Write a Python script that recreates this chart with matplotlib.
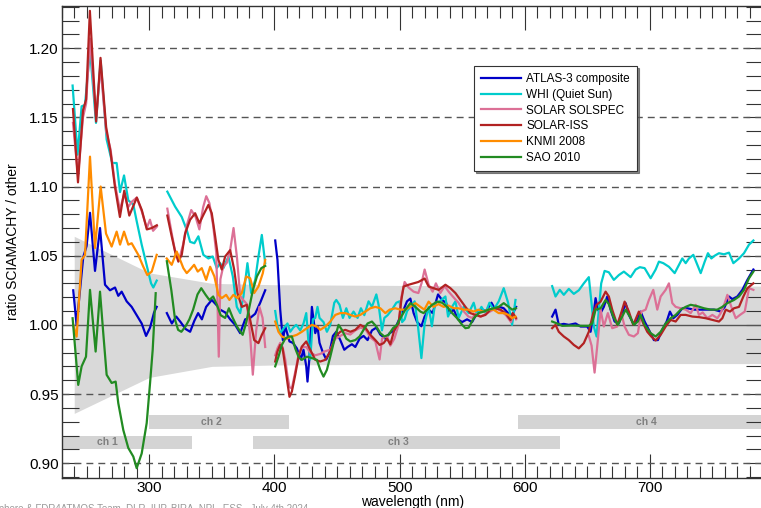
import numpy as np
import matplotlib
matplotlib.use("Agg")
import matplotlib.pyplot as plt
from matplotlib.ticker import MultipleLocator

plt.rcParams['font.family'] = ['Liberation Sans', 'DejaVu Sans']

# ratio SCIAMACHY / reference spectrum, (wavelength nm, ratio); None = gap between segments
atlas = [(239.2, 1.025), (241.9, 1.000), (247.2, 1.049), (249.9, 1.057), (252.6, 1.081), (256.6, 1.039),
         (260.6, 1.070), (264.6, 1.029), (268.6, 1.025), (272.6, 1.027), (275.2, 1.021), (277.9, 1.024),
         (281.9, 1.017), (285.9, 1.013), (289.9, 1.007), (293.9, 1.001), (297.4, 0.992), (300.6, 0.998),
         (303.8, 1.009), (305.9, 1.013), None,
         (314, 1.0085), (318, 1.001), (321.5, 1.006), (325, 1.002), (329, 0.997), (332.6, 0.995), (336, 1.003),
         (339, 1.0085), (342, 1.004), (345.4, 1.013), (349.9, 1.018), (353.5, 1.0145), (356.6, 1.011),
         (360.6, 1.009), (364.6, 1.004), (368.6, 1.000), (372.6, 0.994), (376.6, 1.004), (380.6, 1.005),
         (384.6, 1.008), (388.6, 1.016), (392.6, 1.025), None,
         (400.6, 1.061), (402.4, 1.047), (404.6, 1.011), (406.7, 0.989), (408.6, 0.999), (412, 0.988),
         (414.7, 0.987), (417.9, 0.983), (421.1, 0.975), (423.2, 0.982), (425.4, 0.970), (426.4, 0.959),
         (428, 0.977), (429.9, 1.013), (432.6, 0.994), (434.4, 0.999), (436, 0.987), (438.7, 0.980),
         (441.4, 0.975), (444, 0.980), (446.7, 0.992), (449.4, 0.995), (452.6, 0.989), (455.8, 0.982),
         (458.4, 0.984), (461.9, 0.986), (464.6, 0.984), (468, 0.990), (471.2, 0.992), (474.4, 0.989),
         (477.9, 0.996), (481.4, 0.998), (484.6, 0.993), (488.6, 0.990), (492, 0.994), (495.8, 0.996),
         (500.6, 1.006), (503.2, 1.011), (505.9, 1.017), (508.6, 1.019), (511.2, 1.0085), (514, 1.002),
         (517.4, 0.999), (520, 1.006), (523.2, 1.011), (526.4, 1.0085), (530.7, 1.022), (533.9, 1.018),
         (537.1, 1.016), (540, 1.0085), (543.2, 1.011), (546.7, 1.004), (549.9, 1.002), (553.9, 1.004),
         (557.9, 1.002), (561.9, 1.0085), (565.4, 1.011), (569.1, 1.010), (573.4, 1.016), (576.6, 1.011),
         (579.8, 1.013), (583.2, 1.012), (586.7, 1.0085), (589.9, 1.007), (593.1, 1.013), None,
         (621.9, 1.006), (624.6, 1.011), (627.2, 1.000), (631.2, 1.0007), (635.2, 1.000), (640.6, 1.001),
         (644.6, 0.9988), (649.9, 0.9988), (652.6, 0.995), (654.7, 1.006), (656.6, 1.0193), (658.4, 1.011),
         (660.6, 1.0085), (663.2, 1.013), (665.9, 1.0205), (668.6, 1.011), (671.8, 1.0024), (675.2, 1.001),
         (677.9, 1.0085), (680.6, 1.0157), (683.2, 1.0072), (687.2, 1.000), (689.9, 1.0036), (692.6, 1.0096),
         (695.8, 1.0024), (699.2, 0.9964), (703.2, 0.989), (706.4, 0.989), (709.9, 0.9964), (713.4, 1.0024),
         (716, 1.0096), (718.7, 1.0048), (721.9, 1.0072), (725.9, 1.012), (729.9, 1.012), (735.2, 1.011),
         (740.6, 1.011), (745.9, 1.011), (751.2, 1.011), (756.6, 1.0096), (759.8, 1.013), (763.2, 1.0205),
         (765.9, 1.0186), (769.9, 1.0205), (773.9, 1.0253), (777.9, 1.0325), (782.7, 1.040)]

whi = [(238.7, 1.173), (242.7, 1.123), (245.9, 1.158), (248.6, 1.159), (252.6, 1.199), (257.4, 1.146),
       (261.1, 1.191), (265.9, 1.134), (270.4, 1.117), (273.9, 1.117), (276.6, 1.096), (279.8, 1.108),
       (283.2, 1.090), (287.2, 1.087), (289.9, 1.075), (293.9, 1.058), (297.9, 1.043), (301.4, 1.030),
       (303.2, 1.027), (305.9, 1.032), None,
       (314.4, 1.0963), (320.6, 1.0855), (325.9, 1.078), (329.9, 1.0686), (332.6, 1.060), (336, 1.059),
       (339.2, 1.064), (343.2, 1.0506), (347.2, 1.048), (350.7, 1.0494), (353.9, 1.041), (356.6, 1.0446),
       (359.2, 1.041), (363.2, 1.0494), (366.7, 1.035), (369.9, 1.013), (372.6, 1.0085), (375.2, 1.0205),
       (378.4, 1.0446), (381.4, 1.023), (384.6, 1.0325), (387.2, 1.0494), (389.9, 1.065), (392.6, 1.0446), None,
       (400.6, 1.010), (402.4, 0.999), (404.6, 0.994), (407.8, 0.998), (410.4, 1.001), (412.6, 0.995),
       (415, 0.998), (417.4, 1.000), (420.6, 0.996), (423.2, 1.001), (425.4, 1.0085), (427.2, 0.987),
       (428.6, 0.975), (430.7, 1.004), (432.6, 1.005), (434.4, 1.013), (436, 1.005), (439.2, 1.002),
       (441.9, 0.995), (444.6, 1.000), (447.8, 1.016), (449.4, 1.018), (452, 1.0145), (454.7, 1.005),
       (457.4, 1.012), (460, 1.005), (463.2, 1.0096), (466.4, 1.005), (469.1, 1.012), (471.8, 1.007),
       (475.2, 1.017), (477.9, 1.013), (481.4, 1.022), (483.2, 1.0145), (485.9, 0.996), (487.8, 1.005),
       (490.4, 1.007), (493.9, 1.011), (497.4, 1.016), (500, 1.017), (502, 1.002), (504, 1.004), (506, 1.010),
       (508.6, 1.013), (512, 1.017), (514.7, 0.999), (517.4, 0.976), (520, 1.001), (523.2, 1.013),
       (525.8, 0.999), (528.4, 1.016), (532, 1.017), (536.6, 1.0205), (538.7, 1.006), (541.9, 1.013),
       (544.6, 1.017), (547.2, 1.005), (551.2, 1.013), (555.2, 1.0085), (559.2, 1.016), (561.9, 1.007),
       (565.4, 1.013), (568.6, 1.0085), (571.8, 1.016), (575.2, 1.011), (579.2, 1.017), (583.2, 1.0265),
       (586.7, 1.016), (589.9, 1.000), (592.6, 1.018), None,
       (621.9, 1.028), (624.6, 1.0205), (628, 1.0253), (631.2, 1.0217), (635.2, 1.026), (639.2, 1.0224),
       (643.2, 1.025), (647.2, 1.030), (651.2, 1.0345), (653.1, 1.018), (655.2, 0.9988), (657.4, 0.9916),
       (659.2, 1.011), (661.1, 1.030), (663.8, 1.039), (667.2, 1.038), (671.2, 1.0325), (675.2, 1.036),
       (679.2, 1.0385), (684.6, 1.0345), (688.6, 1.040), (692, 1.0417), (695.8, 1.041), (700.6, 1.0337),
       (704.6, 1.040), (707.2, 1.0457), (710.7, 1.0446), (715.2, 1.042), (719.8, 1.0374), (723.2, 1.0434),
       (725.9, 1.048), (728.6, 1.0446), (731.2, 1.048), (734.7, 1.0506), (737.9, 1.0434), (740.6, 1.0374),
       (743.8, 1.0457), (746.4, 1.0518), (749.1, 1.048), (751.8, 1.050), (755.2, 1.0518), (759.2, 1.051),
       (763.2, 1.0522), (766.7, 1.0446), (771.2, 1.048), (775.2, 1.0518), (779.2, 1.058), (782.7, 1.061)]

solspec = [(239, 1.146), (243, 1.108), (247, 1.150), (249.5, 1.160), (252.5, 1.207), (257.5, 1.150),
           (261, 1.187), (265.5, 1.140), (269, 1.127), (272.5, 1.102), (276.5, 1.083), (280, 1.095),
           (283, 1.085), (286, 1.089), (290, 1.092), (294, 1.082), (298, 1.070), (300.5, 1.076),
           (303, 1.068), (306, 1.071), None,
           (314.4, 1.084), (317.9, 1.066), (321.3, 1.050), (324, 1.048), (327, 1.058), (330, 1.072),
           (333.5, 1.083), (337, 1.078), (340, 1.069), (343, 1.085), (345.5, 1.093), (348, 1.088),
           (351, 1.072), (353.5, 1.052), (355.5, 0.977), (356.8, 1.033), (359, 1.042), (362, 1.045),
           (364.6, 1.054), (367.3, 1.070), (370, 1.049), (372.6, 1.021), (375, 1.018), (378, 1.015),
           (380.6, 0.992), (382.7, 0.964), (385.4, 0.996), (388, 1.013), (390.5, 1.005), (392.6, 0.984), None,
           (400.6, 0.978), (402.4, 0.983), (404.6, 0.987), (406.5, 0.984), (408.6, 0.975), (410.4, 0.963),
           (412, 0.955), (413.9, 0.954), (416.6, 0.966), (419.2, 0.978), (421.9, 0.984), (425.4, 0.984),
           (428.6, 0.980), (432.6, 0.978), (436.6, 0.979), (440.6, 0.981), (444.6, 0.982), (448.6, 0.990),
           (452.6, 0.992), (456.6, 0.994), (460.6, 0.993), (464.6, 0.996), (468.6, 0.998), (472.6, 0.997),
           (476.6, 0.991), (480.6, 0.988), (484, 0.975), (486, 0.990), (489.9, 0.992), (492.6, 0.985),
           (495.8, 0.990), (499.2, 1.000), (501.4, 1.020), (504, 1.031), (507.2, 1.027), (511.2, 1.024),
           (515, 1.023), (517.5, 1.030), (520, 1.040), (523.2, 1.029), (526.4, 1.024), (529, 1.030),
           (532.5, 1.023), (536, 1.028), (539.2, 1.024), (543, 1.020), (547, 1.016), (551, 1.010),
           (555, 1.006), (558, 1.005), (561, 1.008), (565, 1.006), (569, 1.008), (573, 1.010), (577, 1.012),
           (581, 1.010), (585, 1.007), (589, 1.002), (591, 1.008), (593.1, 1.004), None,
           (651.2, 0.992), (653.4, 0.985), (655.8, 0.9655), (658.4, 0.989), (660.6, 1.011), (663.2, 0.9988),
           (666.4, 1.0085), (669.9, 0.9976), (673.9, 0.9988), (677.1, 1.0085), (679.8, 0.9988), (683.2, 0.9928),
           (687.2, 0.9916), (690.4, 0.994), (693.1, 1.0096), (696.6, 1.011), (699.2, 1.018), (702.7, 1.0253),
           (705.9, 1.011), (708.6, 1.0205), (712.6, 1.0253), (715.2, 1.030), (717.9, 1.0157), (720.6, 1.013),
           (724.6, 1.012), (728.6, 1.011), (732.6, 1.0085), (736.6, 1.0145), (739.2, 1.0072), (742.2, 1.009),
           (745.9, 1.0048), (749.9, 1.0072), (753.9, 1.0048), (756.6, 1.0085), (759.8, 1.0157), (761.9, 1.0217),
           (765.1, 1.013), (768.6, 1.0048), (772, 1.0072), (775.8, 1.0096), (779.2, 1.0265), (782.7, 1.0253)]

solar_iss = [(239, 1.156), (243, 1.103), (247, 1.155), (249.5, 1.163), (252.5, 1.227), (257.5, 1.147),
             (261, 1.193), (265.5, 1.143), (269, 1.125), (272.5, 1.100), (276.5, 1.078), (280, 1.097),
             (284, 1.079), (290, 1.092), (294, 1.083), (298, 1.069), (302, 1.070), (306, 1.072), None,
             (314.4, 1.079), (317.9, 1.064), (320.6, 1.053), (323.2, 1.0457), (325.9, 1.0506), (328.6, 1.066),
             (332.6, 1.076), (336.6, 1.0807), (340, 1.0735), (343.2, 1.0795), (347.2, 1.0867), (349.9, 1.0807),
             (352.6, 1.064), (355.2, 1.047), (357.9, 1.040), (360.6, 1.0494), (364.6, 1.054), (367.8, 1.040),
             (370.4, 1.023), (373.9, 1.013), (377.9, 1.0145), (380.6, 1.0036), (383.8, 0.989), (387.2, 0.9868),
             (389.9, 0.9928), (392.6, 0.9976), None,
             (400.6, 0.9735), (402.4, 0.9807), (404.6, 0.9855), (406.5, 0.983), (408.6, 0.970), (410.4, 0.958),
             (412, 0.948), (413.9, 0.9518), (416.6, 0.9639), (419.2, 0.977), (421.9, 0.9843), (425.4, 0.988),
             (428.6, 0.982), (432.6, 0.9747), (436.6, 0.9735), (440.6, 0.9747), (444.6, 0.9807), (448.6, 0.9916),
             (452.6, 0.995), (456.6, 0.9964), (460.6, 0.995), (464.6, 0.9964), (468.6, 1.000), (472.6, 0.998),
             (476.6, 0.9928), (480.6, 0.989), (484, 0.9855), (487.2, 0.9868), (489.9, 0.990), (492.6, 0.986),
             (495.8, 0.9964), (499.2, 1.001), (501.4, 1.018), (503.2, 1.0277), (507.2, 1.029), (511.2, 1.030),
             (515, 1.031), (520, 1.0335), (523.2, 1.0277), (527.2, 1.0265), (531.2, 1.0253), (536.6, 1.029),
             (540.6, 1.0265), (544.6, 1.023), (548.6, 1.018), (552.6, 1.013), (556.6, 1.0085), (560.6, 1.0072),
             (564.6, 1.006), (568.6, 1.0072), (572.6, 1.011), (576.6, 1.012), (580.6, 1.011), (584.6, 1.0085),
             (588.6, 1.0035), (590.4, 1.0085), (593.1, 1.005), None,
             (621.9, 0.9976), (624.6, 1.000), (627.2, 0.995), (631.2, 0.9916), (635.2, 0.989), (639.2, 0.9855),
             (643.2, 0.983), (647.2, 0.9868), (651.2, 0.995), (654.7, 1.0085), (657.4, 1.0145), (660.6, 1.0168),
             (664.6, 1.024), (667.2, 1.0205), (669.9, 1.011), (673.9, 1.000), (676.6, 1.0072), (679.8, 1.0168),
             (683.2, 1.0096), (686.7, 1.000), (691.2, 1.0096), (694.7, 1.001), (697.9, 0.995), (701.1, 0.9916),
             (704.6, 0.9887), (708.6, 0.9928), (712.6, 0.9988), (716.6, 1.0036), (720.6, 1.0024), (724.6, 1.0072),
             (728.6, 1.0072), (733.9, 1.006), (739.2, 1.0056), (744.6, 1.0048), (749.9, 1.0036), (755.2, 1.0024),
             (757.9, 1.0048), (760.6, 1.011), (764, 1.0096), (767.2, 1.012), (771.2, 1.013), (774.7, 1.0205),
             (777.9, 1.0265), (782.7, 1.030)]

knmi = [(239.2, 1.000), (241.9, 0.9915), (245.9, 1.047), (248.6, 1.0505), (252.6, 1.1216), (256.6, 1.0556),
        (261.1, 1.100), (265.4, 1.066), (269.9, 1.0566), (273.9, 1.0674), (276.6, 1.058), (279.8, 1.0674),
        (283.2, 1.058), (285.9, 1.059), (291.2, 1.0506), (295.2, 1.042), (298.4, 1.036), (301.9, 1.0385),
        (305.9, 1.0506), None,
        (313.9, 1.048), (317.9, 1.0434), (321.9, 1.053), (324.6, 1.047), (327.2, 1.041), (329.9, 1.0374),
        (332.6, 1.040), (335.8, 1.0434), (338.7, 1.0385), (341.9, 1.041), (345.4, 1.0325), (348.6, 1.042),
        (352, 1.035), (355.2, 1.0217), (357.9, 1.0193), (361.4, 1.0217), (364, 1.018), (367.2, 1.0217),
        (370.4, 1.0193), (373.9, 1.023), (377.4, 1.035), (380.6, 1.0337), (383.8, 1.023), (387.2, 1.0277),
        (390.7, 1.0374), (392.6, 1.047), None,
        (400.6, 1.0024), (403.2, 0.995), (405.9, 0.9916), (409.9, 0.990), (413.9, 0.9916), (417.9, 0.9928),
        (421.9, 0.995), (425.9, 0.9976), (429.9, 1.000), (433.9, 0.9988), (436.6, 0.9964), (440.6, 0.9988),
        (444.6, 1.0024), (448.6, 1.0072), (452.6, 1.0085), (456.6, 1.0085), (460.6, 1.0072), (464.6, 1.006),
        (468.6, 1.0072), (472.6, 1.0096), (476.6, 1.012), (480.6, 1.013), (484.6, 1.012), (488.6, 1.0085),
        (492, 1.011), (496.6, 1.012), (500.6, 1.011), (504.6, 1.011), (508.6, 1.013), (512.6, 1.0157),
        (516.6, 1.013), (519.8, 1.011), (523.2, 1.0168), (527, 1.013), (531, 1.015), (535.2, 1.013),
        (539, 1.014), (543.2, 1.012), (547, 1.012), (551.2, 1.011), (555, 1.011), (559.2, 1.0096),
        (563, 1.011), (567, 1.0096), (571.2, 1.011), (575, 1.011), (579.2, 1.0085), (583.2, 1.0085),
        (587.2, 1.0072), (589.9, 1.0048), (592.6, 1.006)]

sao = [(238.7, 1.0048), (243.2, 0.9566), (245.9, 0.970), (249.4, 0.977), (252.6, 1.0253), (257.1, 0.9807),
       (260.6, 1.024), (263.2, 0.994), (265.9, 0.9639), (269.9, 0.958), (273.1, 0.959), (275.2, 0.9434),
       (279.2, 0.924), (283.2, 0.911), (287.2, 0.9048), (289.9, 0.8964), (293.9, 0.907), (297.9, 0.929),
       (300.6, 0.958), (302.7, 0.982), (305.1, 1.0229), None,
       (314, 1.046), (317.6, 1.025), (320.6, 1.0036), (323, 0.9964), (325.6, 0.995), (329, 0.999),
       (332, 1.004), (335, 1.011), (338.5, 1.022), (341.5, 1.0265), (345, 1.0217), (348, 1.018),
       (351, 1.0205), (354, 1.0145), (357, 1.007), (360.6, 1.005), (363.6, 1.012), (366.7, 1.005),
       (370, 0.9988), (372.8, 0.995), (374.6, 0.9928), (377.3, 1.0012), (380, 1.013), (382.8, 1.0253),
       (386, 1.035), (389.5, 1.041), (392.6, 1.0426), None,
       (400.6, 0.970), (403.2, 0.977), (405.9, 0.9855), (408.6, 0.990), (411.2, 0.9916), (413.9, 0.9916),
       (416.6, 0.983), (419.2, 0.977), (421.9, 0.9747), (425.9, 0.977), (429.9, 0.976), (433.9, 0.9747),
       (436.6, 0.9675), (439.2, 0.9626), (441.9, 0.9675), (444.6, 0.977), (447.8, 0.989), (451.2, 1.000),
       (453.9, 0.9964), (457.4, 0.990), (460.6, 0.988), (464.6, 0.989), (468, 0.9916), (471.2, 0.9964),
       (474.4, 1.001), (477.9, 1.0024), (481.4, 0.9988), (484.6, 0.994), (487.8, 0.9916), (491.2, 0.9928),
       (494.7, 0.9976), (497.9, 1.000), (500.6, 1.0048), (504.6, 1.011), (508.6, 1.0157), (512.6, 1.013),
       (516.6, 1.0096), (519.2, 1.0085), (523.2, 1.012), (526, 1.0145), (530, 1.0168), (534, 1.016),
       (538, 1.013), (542, 1.0085), (546, 1.0048), (550, 1.000), (552.6, 0.9976), (555.2, 0.998),
       (559.2, 1.0048), (563.2, 1.0085), (567.2, 1.0096), (571.2, 1.011), (575.2, 1.012), (579.2, 1.013),
       (583.2, 1.0157), (587.2, 1.013), (589.9, 1.011), (593, 1.012), None,
       (621.9, 1.0024), (625.9, 1.001), (629.9, 0.9993), (637, 0.9995), (645.9, 0.9993), (651.2, 0.9993),
       (653.9, 1.001), (656.6, 1.011), (660.6, 1.012), (664.6, 1.018), (667.2, 1.015), (670.7, 1.006),
       (674.4, 1.000), (677.9, 1.006), (680.6, 1.011), (684, 1.006), (687.2, 1.000), (690.4, 1.0024),
       (692.6, 1.0072), (695.8, 1.000), (700.6, 0.994), (704.6, 0.9916), (708.6, 0.995), (712.6, 1.001),
       (716.6, 1.0048), (720.6, 1.0072), (724.6, 1.011), (728.6, 1.013), (732.6, 1.0145), (737.9, 1.0135),
       (743.2, 1.012), (748.6, 1.011), (753.9, 1.011), (757.9, 1.013), (761.9, 1.0157), (767.2, 1.018),
       (771.2, 1.0205), (775.2, 1.0253), (779.2, 1.0337), (782.7, 1.0385)]

series_labels = ['ATLAS-3 composite', 'WHI (Quiet Sun)', 'SOLAR SOLSPEC', 'SOLAR-ISS', 'KNMI 2008', 'SAO 2010']
series_colors = ['#0000c8', '#00cccc', '#dc7096', '#b22222', '#ff8c00', '#228b22']

# SCIAMACHY uncertainty envelope
band_wl = [240, 300, 350, 400, 500, 600, 700, 790]
band_lo = [0.936, 0.962, 0.970, 0.971, 0.9715, 0.972, 0.972, 0.972]
band_hi = [1.064, 1.0376, 1.030, 1.029, 1.0285, 1.028, 1.028, 1.028]

# SCIAMACHY channels
ch_names = ['ch 1', 'ch 2', 'ch 3', 'ch 4']
ch_start = [212, 300, 383, 595]
ch_end = [334, 412, 628, 812]
ch_row = [0.915, 0.930, 0.915, 0.930]


def to_xy(pairs):
    x, y = [], []
    for p in pairs:
        if p is None:
            x.append(np.nan)
            y.append(np.nan)
        else:
            x.append(p[0])
            y.append(p[1])
    return np.array(x), np.array(y)


fig = plt.figure(figsize=(7.61, 5.08), dpi=100)
ax = fig.add_axes([0.0811, 0.0596, 0.9209, 0.9286])

ax.fill_between(band_wl, band_lo, band_hi, color='#d9d9d9', lw=0, zorder=1)
ax.barh(ch_row, np.array(ch_end) - np.array(ch_start), left=ch_start, height=0.01,
        color='#d4d4d4', lw=0, zorder=1)
for name, s, e, r in zip(ch_names, ch_start, ch_end, ch_row):
    ax.text((s + e) / 2 - 6.5, r, name, ha='center', va='center', fontsize=7.5,
            fontweight='bold', color='#808080', zorder=2)

for lev in [0.90, 0.95, 1.05, 1.10, 1.15, 1.20]:
    ax.axhline(lev, color='#555555', lw=1.0, ls=(0, (5, 3.6)), zorder=2)
ax.axhline(1.0, color='#555555', lw=1.0, zorder=2)

for data, lab, col in zip([atlas, whi, solspec, solar_iss, knmi, sao], series_labels, series_colors):
    x, y = to_xy(data)
    ax.plot(x, y, color=col, lw=1.6, label=lab, zorder=3, solid_joinstyle='round')

ax.set_xlim(230, 790)
ax.set_ylim(0.8895, 1.2305)
ax.set_xticks([300, 400, 500, 600, 700])
ax.xaxis.set_minor_locator(MultipleLocator(10))
ax.set_yticks([0.90, 0.95, 1.00, 1.05, 1.10, 1.15, 1.20])
ax.yaxis.set_minor_locator(MultipleLocator(0.01))
ax.set_yticklabels(['0.90', '0.95', '1.00', '1.05', '1.10', '1.15', '1.20'])

ax.tick_params(which='both', direction='in', top=True, right=True, color='#333333',
               width=0.8, labelsize=11)
ax.tick_params(axis='x', which='major', length=17, pad=2.5)
ax.tick_params(axis='x', which='minor', length=8.6)
ax.tick_params(axis='y', which='both', length=12, pad=2)
for sp in ax.spines.values():
    sp.set_color('#333333')
    sp.set_linewidth(1.0)

ax.set_xlabel('wavelength (nm)', fontsize=10, labelpad=0)
ax.set_ylabel('ratio SCIAMACHY / other', fontsize=10, labelpad=7)

leg = ax.legend(loc='upper left', bbox_to_anchor=(0.588, 0.873), fontsize=8.5, frameon=True,
                fancybox=False, shadow={'ox': 1.5, 'oy': -1.5, 'color': '#555555', 'alpha': 0.7},
                handlelength=3.4, labelspacing=0.32, borderpad=0.6, handletextpad=0.45,
                borderaxespad=0)
leg.get_frame().set_edgecolor('#333333')
leg.get_frame().set_linewidth(0.8)
leg.set_zorder(5)

fig.text(0.405, 0.0079, 'Atmosphere & FDR4ATMOS Team, DLR, IUP, BIRA, NPL, ESS,  July 4th 2024',
         ha='right', va='top', fontsize=7, color='#999999')

fig.savefig('out.png', dpi=100)
